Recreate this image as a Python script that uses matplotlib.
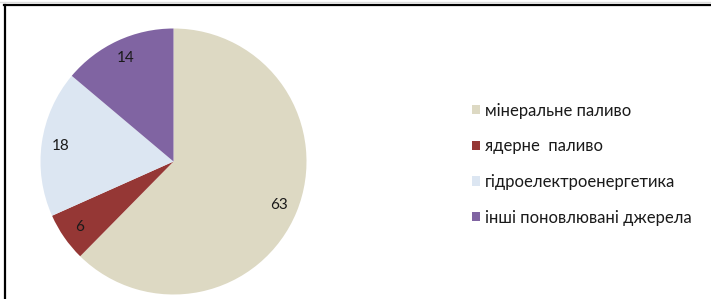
import matplotlib.pyplot as plt
from matplotlib.patches import Patch
from matplotlib.lines import Line2D

categories = ["мінеральне паливо", "ядерне  паливо", "гідроелектроенергетика", "інші поновлювані джерела"]
values = [63, 6, 18, 14]
colors = ["#DDD9C3", "#953735", "#DCE6F2", "#8064A2"]

plt.rcParams['font.family'] = ['Lato', 'DejaVu Sans']

W, H = 711, 299
fig = plt.figure(figsize=(W / 100, H / 100), dpi=100)

# pie axes: center (173, 162) px, radius 133 px
cx, cy, r = 173.5, 161.5, 133
ax = fig.add_axes([(cx - r) / W, (H - cy - r) / H, 2 * r / W, 2 * r / H])
ax.pie(values, colors=colors, startangle=90, counterclock=False,
       autopct=lambda p: "%d" % round(p * sum(values) / 100),
       pctdistance=0.86, textprops={'fontsize': 11, 'color': '#1a1a1a'},
       wedgeprops={'linewidth': 0})
ax.set_xlim(-1, 1)
ax.set_ylim(-1, 1)
ax.set_aspect('equal')
ax.axis('off')

handles = [Patch(facecolor=c, edgecolor='none') for c in colors]
fig.legend(handles, categories, loc='upper left',
           bbox_to_anchor=(465 / W, 1 - 96 / H), frameon=False,
           fontsize=12, handlelength=0.48, handleheight=0.48,
           handletextpad=0.3, labelspacing=1.18, borderaxespad=0,
           labelcolor='#1a1a1a')

# frame lines (top and left)
fig.add_artist(Line2D([4 / W, 1], [1 - 5 / H, 1 - 5 / H], color='black', lw=1.6,
                      transform=fig.transFigure))
fig.add_artist(Line2D([5 / W, 5 / W], [0, 1 - 5 / H], color='black', lw=1.6,
                      transform=fig.transFigure))
fig.add_artist(Line2D([0, 1], [1 - 2 / H, 1 - 2 / H], color='#dddddd', lw=1,
                      transform=fig.transFigure))

fig.savefig("out.png", dpi=100)
